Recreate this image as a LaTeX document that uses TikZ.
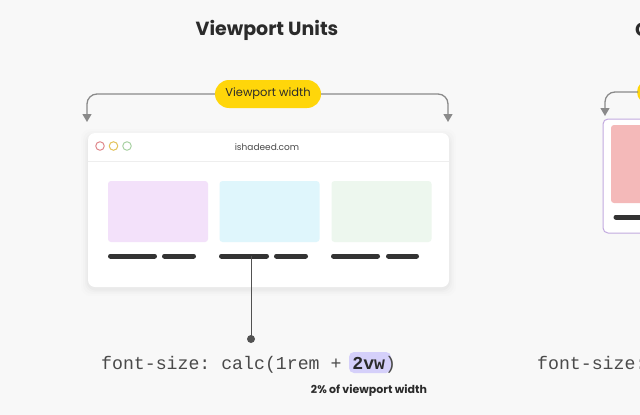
\documentclass[tikz,border=0pt]{standalone}
\usepackage{fontspec}
\setmainfont{Poppins}
\setmonofont{Liberation Mono}
\usetikzlibrary{arrows.meta}
\definecolor{bg}{HTML}{F8F8F8}
\definecolor{titlec}{HTML}{2B2B2B}
\definecolor{pillc}{HTML}{FFD60A}
\definecolor{arrowc}{HTML}{8A8A8A}
\definecolor{sepc}{HTML}{EEEEEE}
\definecolor{dotr}{HTML}{E08A8E}
\definecolor{doty}{HTML}{E3C35A}
\definecolor{dotg}{HTML}{A9D2A4}
\definecolor{cardA}{HTML}{F3E1FA}
\definecolor{cardB}{HTML}{DFF6FC}
\definecolor{cardC}{HTML}{EDF7EE}
\definecolor{barc}{HTML}{333333}
\definecolor{codec}{HTML}{4A4A4A}
\definecolor{hlc}{HTML}{D5D0FA}
\definecolor{framec}{HTML}{C2AADF}
\definecolor{pinkc}{HTML}{F4B9B9}
\tikzset{
  conn/.style={draw=arrowc, line width=1.3pt, rounded corners=10pt,
    -{Triangle[length=8pt,width=9pt]}},
  pill/.style={fill=pillc, rounded corners=14pt, minimum width=106pt,
    minimum height=28pt, inner sep=0pt, text=titlec,
    font=\fontsize{11.5}{13}\selectfont},
  card/.style={rounded corners=3pt, minimum width=100pt, minimum height=61pt,
    inner sep=0pt},
  barline/.style={draw=barc, line width=5pt, line cap=round},
  wdot/.style={circle, draw, line width=1pt, minimum size=8.5pt, inner sep=0pt},
  code/.style={inner sep=0pt, text=codec, font=\ttfamily\fontsize{18.2}{20}\selectfont}
}
\begin{document}
\begin{tikzpicture}[x=1pt,y=-1pt]
\useasboundingbox (0,0) rectangle (640,415);
\clip (0,0) rectangle (640,415);
\fill[bg] (0,0) rectangle (640,415);

% title
\node[text=titlec, font=\fontsize{19}{21}\selectfont\bfseries] (title) at (267,30) {Viewport Units};

% browser window with soft shadow
\foreach \s/\o in {7/0.008,5/0.012,3/0.016,1.5/0.02}{
  \fill[black, opacity=\o, rounded corners=9pt] (88-\s,133-\s+3) rectangle (449+\s,287+\s+2);
}
\node[fill=white, rounded corners=7pt, minimum width=361pt, minimum height=154pt, inner sep=0pt] (win) at (268.5,210) {};
\draw[sepc, line width=1pt] (88,161) -- (449,161);
\node[wdot, draw=dotr] (d1) at (100,146) {};
\node[wdot, draw=doty] (d2) at (113.5,146) {};
\node[wdot, draw=dotg] (d3) at (127,146) {};
\node[text=codec, font=\fontsize{9}{11}\selectfont] (url) at (267,147) {ishadeed.com};

% cards
\node[card, fill=cardA] (c1) at (158,211.5) {};
\node[card, fill=cardB] (c2) at (269.5,211.5) {};
\node[card, fill=cardC] (c3) at (381.5,211.5) {};

% bars
\draw[barline] (110.5,256) -- (154.5,256);
\draw[barline] (164.5,256) -- (193.5,256);
\draw[barline] (221.5,256) -- (266.5,256);
\draw[barline] (276.5,256) -- (305.5,256);
\draw[barline] (333.5,256) -- (377.5,256);
\draw[barline] (388.5,256) -- (416.5,256);

% viewport width pill and arrows
\node[pill] (vw) at (268,94) {Viewport width};
\coordinate (lt) at (87,122);
\coordinate (rt) at (448,122);
\draw[conn] (vw.west) -| (lt);
\draw[conn] (vw.east) -| (rt);

% connector to code
\coordinate (barpt) at (251,256);
\node[circle, fill=barc!85!white, minimum size=8pt, inner sep=0pt] (pin) at (251,339) {};
\draw[barc!85!white, line width=1pt] (barpt) -- (pin.center);

% code line
\fill[hlc, rounded corners=5pt] (349,352) rectangle (391,373);
\node[code, anchor=base west] (codeline) at (101,369) {font-size: calc(1rem + {\color{titlec}\bfseries 2vw})};
\node[text=titlec, font=\fontsize{11}{13}\selectfont\bfseries] (note) at (369,391) {2\% of viewport width};

% right-hand partial panel
\node[text=titlec, font=\fontsize{19}{21}\selectfont\bfseries, anchor=west, inner sep=0pt] (title2) at (635,30) {C};
\fill[pillc, rounded corners=12pt] (637,80) rectangle (700,104);
\coordinate (pill2) at (638,92);
\coordinate (lt2) at (605,116);
\draw[conn] (pill2) -| (lt2);
\draw[framec, fill=white, line width=1pt, rounded corners=5pt] (603,119) rectangle (680,233);
\fill[pinkc, rounded corners=3pt] (611,125) rectangle (690,203);
\draw[barline] (616,217) -- (660,217);
\node[code, anchor=base west] (code2) at (537,369) {font-size:};
\end{tikzpicture}
\end{document}
